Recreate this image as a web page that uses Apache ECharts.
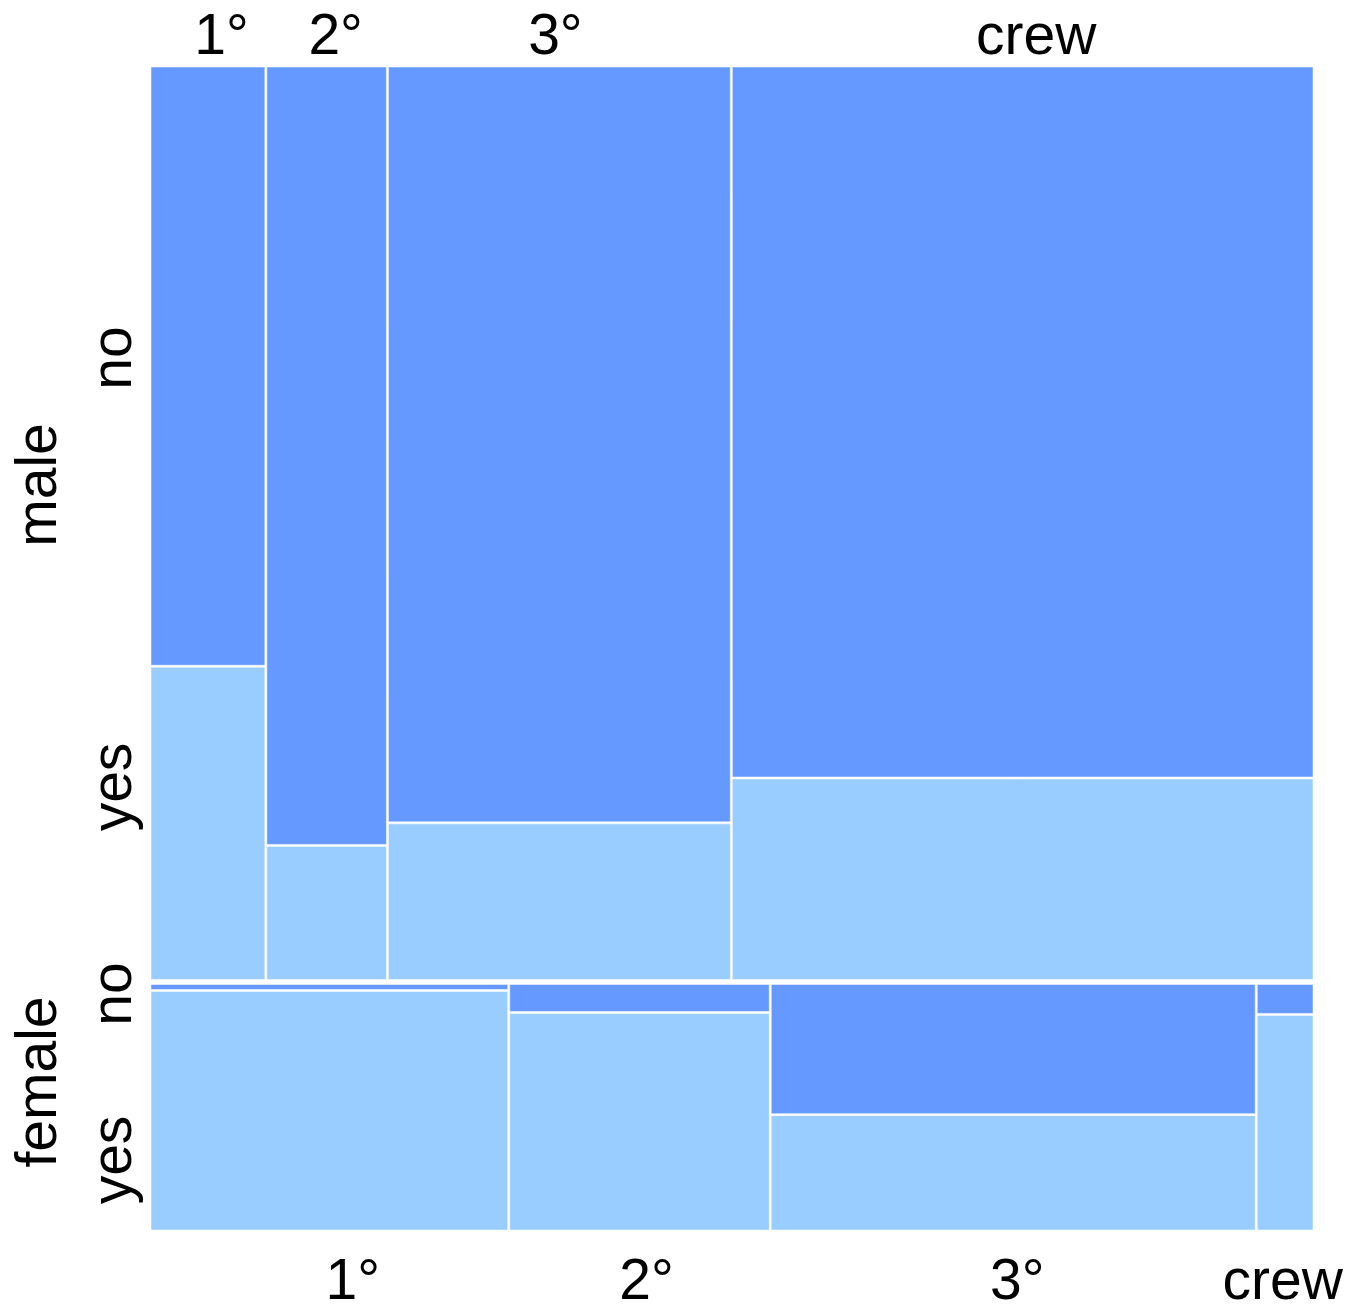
<!DOCTYPE html>
<html>
<head>
<meta charset="utf-8">
<style>
html,body{margin:0;padding:0;background:#fff;}
#chart{width:1351px;height:1307px;}
</style>
<script src="https://cdn.jsdelivr.net/npm/echarts@6/dist/echarts.min.js"></script>
</head>
<body>
<div id="chart"></div>
<script>
// Sex x class x survived counts (read from the mosaic)
const classes = ['1°', '2°', '3°', 'crew'];
const sexes = ['male', 'female'];
const survived = ['no', 'yes'];
const maleNo = [112, 154, 423, 673];
const maleYes = [59, 27, 89, 193];
const femaleNo = [5, 13, 105, 3];
const femaleYes = [140, 93, 92, 20];

const COLORS = { no: '#6699FF', yes: '#99CCFF' };
const FONT = '"Liberation Sans", Arial, sans-serif';
const FONT_SIZE = 57;
// small horizontal nudges of class labels (pixels), top row then bottom row
const TOP_DX = [13, 9, -4, 14];
const BOTTOM_DX = [23, 7, 4, -2];

const rows = [
  { sex: 'male', no: maleNo, yes: maleYes },
  { sex: 'female', no: femaleNo, yes: femaleYes }
];
const sum = a => a.reduce((s, v) => s + v, 0);
const grand = sum(rows.map(r => sum(r.no) + sum(r.yes)));

const cells = [];
const classLabels = [];
let yStart = 0;
rows.forEach((r, ri) => {
  const rowTotal = sum(r.no) + sum(r.yes);
  const rowH = rowTotal / grand;
  let xStart = 0;
  classes.forEach((c, ci) => {
    const colTotal = r.no[ci] + r.yes[ci];
    const w = colTotal / rowTotal;
    const noH = rowH * r.no[ci] / colTotal;
    cells.push([xStart, xStart + w, yStart, yStart + noH, 0, ri]);
    cells.push([xStart, xStart + w, yStart + noH, yStart + rowH, 1, ri]);
    classLabels.push([xStart + w / 2, ri, c, ci]);
    xStart += w;
  });
  yStart += rowH;
});

const chart = echarts.init(document.getElementById('chart'), null, { renderer: 'canvas' });

function renderCell(params, api) {
  const x0 = api.value(0), x1 = api.value(1), y0 = api.value(2), y1 = api.value(3);
  const kind = api.value(4), ri = api.value(5);
  const p0 = api.coord([x0, y0]);
  const p1 = api.coord([x1, y1]);
  let l = p0[0] + 1, r = p1[0] - 1, t = p0[1] + 1, b = p1[1] - 1;
  if (x0 === 0) l -= 1;
  if (x1 >= 0.9999) r += 1;
  if (ri === 0 && kind === 1) b -= 1.5;
  if (ri === 1 && kind === 0) t += 1.5;
  if (ri === 0 && kind === 0 && y0 === 0) t -= 1;
  return {
    type: 'rect',
    shape: { x: l, y: t, width: Math.max(0, r - l), height: Math.max(0, b - t) },
    style: { fill: kind === 0 ? COLORS.no : COLORS.yes, stroke: 'rgba(255,255,255,0.5)', lineWidth: 1 }
  };
}

function renderLabel(params, api) {
  const xc = api.value(0), ri = api.value(1);
  const lab = classLabels[params.dataIndex];
  const p = api.coord([xc, ri === 0 ? 0 : 1]);
  const dx = ri === 0 ? TOP_DX[lab[3]] : BOTTOM_DX[lab[3]];
  return {
    type: 'text',
    x: p[0] + dx,
    y: ri === 0 ? p[1] - 29 : p[1] + 52,
    style: {
      text: lab[2], fill: '#000', font: FONT_SIZE + 'px ' + FONT,
      align: 'center', verticalAlign: 'middle'
    }
  };
}

function sideText(text, x, y) {
  return {
    type: 'text', x: x, y: y, rotation: Math.PI / 2,
    style: { text: text, fill: '#000', font: FONT_SIZE + 'px ' + FONT, align: 'center', verticalAlign: 'middle' }
  };
}

chart.setOption({
  animation: false,
  backgroundColor: '#fff',
  grid: { left: 151, right: 38, top: 67, bottom: 76 },
  xAxis: { type: 'value', min: 0, max: 1, show: false },
  yAxis: { type: 'value', min: 0, max: 1, inverse: true, show: false },
  graphic: [
    sideText('male', 40, 485),
    sideText('female', 40, 1082),
    sideText('no', 115, 358),
    sideText('yes', 115, 787),
    sideText('no', 115, 994),
    sideText('yes', 115, 1160)
  ],
  series: [
    { type: 'custom', renderItem: renderCell, data: cells, encode: { x: [0, 1], y: [2, 3] }, silent: true },
    { type: 'custom', renderItem: renderLabel, data: classLabels.map(d => [d[0], d[1]]), encode: { x: 0, y: 1 }, silent: true, clip: false }
  ]
});
</script>
</body>
</html>
